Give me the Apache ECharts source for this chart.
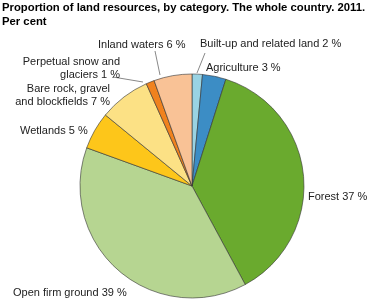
<!DOCTYPE html>
<html><head><meta charset="utf-8">
<script src="https://cdn.jsdelivr.net/npm/echarts@6/dist/echarts.min.js"></script>
<style>html,body{margin:0;padding:0;background:#fff}#c{width:372px;height:300px}</style>
</head><body><div id="c"></div>
<script>
var titleText = 'Proportion of land resources, by category. The whole country. 2011.\nPer cent';
var categories = ['Built-up and related land', 'Agriculture', 'Forest', 'Open firm ground', 'Wetlands', 'Bare rock, gravel\nand blockfields', 'Perpetual snow and\nglaciers', 'Inland waters'];
var values = [1.5, 3.4, 37.3, 38.5, 5.4, 7.4, 1.2, 5.5];
var colors = ['#99d3e3', '#3c8dc5', '#6aaa2e', '#b6d591', '#fdc61a', '#fce185', '#f0821e', '#f9c296'];
var withLine = [true, false, false, false, false, false, true, true];

var labelPos = [
  {x: 200, y: 44, align: 'left', line: [[197, 73], [205, 53]]},
  {x: 206, y: 68, align: 'left'},
  {x: 308, y: 197, align: 'left'},
  {x: 13, y: 293, align: 'left'},
  {x: 20, y: 131, align: 'left'},
  {x: 110, y: 95, align: 'right'},
  {x: 120, y: 68, align: 'right', line: [[143, 82], [113, 77]]},
  {x: 98, y: 45, align: 'left', line: [[160, 75], [155, 51]]}
];

var chart = echarts.init(document.getElementById('c'), null, {renderer: 'canvas'});
chart.setOption({
  animation: false,
  title: {
    text: titleText, left: 2, top: 1, padding: 0,
    textStyle: {fontFamily: 'Liberation Sans', fontSize: 11.3, fontWeight: 'bold', color: '#000', lineHeight: 14}
  },
  series: [{
    type: 'pie',
    center: [192, 186],
    radius: [0, 112],
    startAngle: 90,
    clockwise: true,
    avoidLabelOverlap: false,
    data: categories.map(function (c, i) {
      return {
        name: c, value: values[i],
        itemStyle: {color: colors[i]},
        labelLine: {show: withLine[i]}
      };
    }),
    itemStyle: {borderColor: '#333', borderWidth: 0.6},
    label: {
      show: true,
      formatter: function (p) { return p.name + ' ' + Math.round(p.value) + ' %'; },
      fontFamily: 'Liberation Sans', fontSize: 11, color: '#222', lineHeight: 13
    },
    labelLine: {lineStyle: {color: '#888', width: 1}, length: 5, length2: 5},
    labelLayout: function (params) {
      var p = labelPos[params.dataIndex];
      var r = {x: p.x, y: p.y, align: p.align, verticalAlign: 'middle'};
      if (p.line) r.labelLinePoints = [p.line[0], p.line[1], p.line[1]];
      return r;
    },
    emphasis: {disabled: true}
  }]
});
</script></body></html>
